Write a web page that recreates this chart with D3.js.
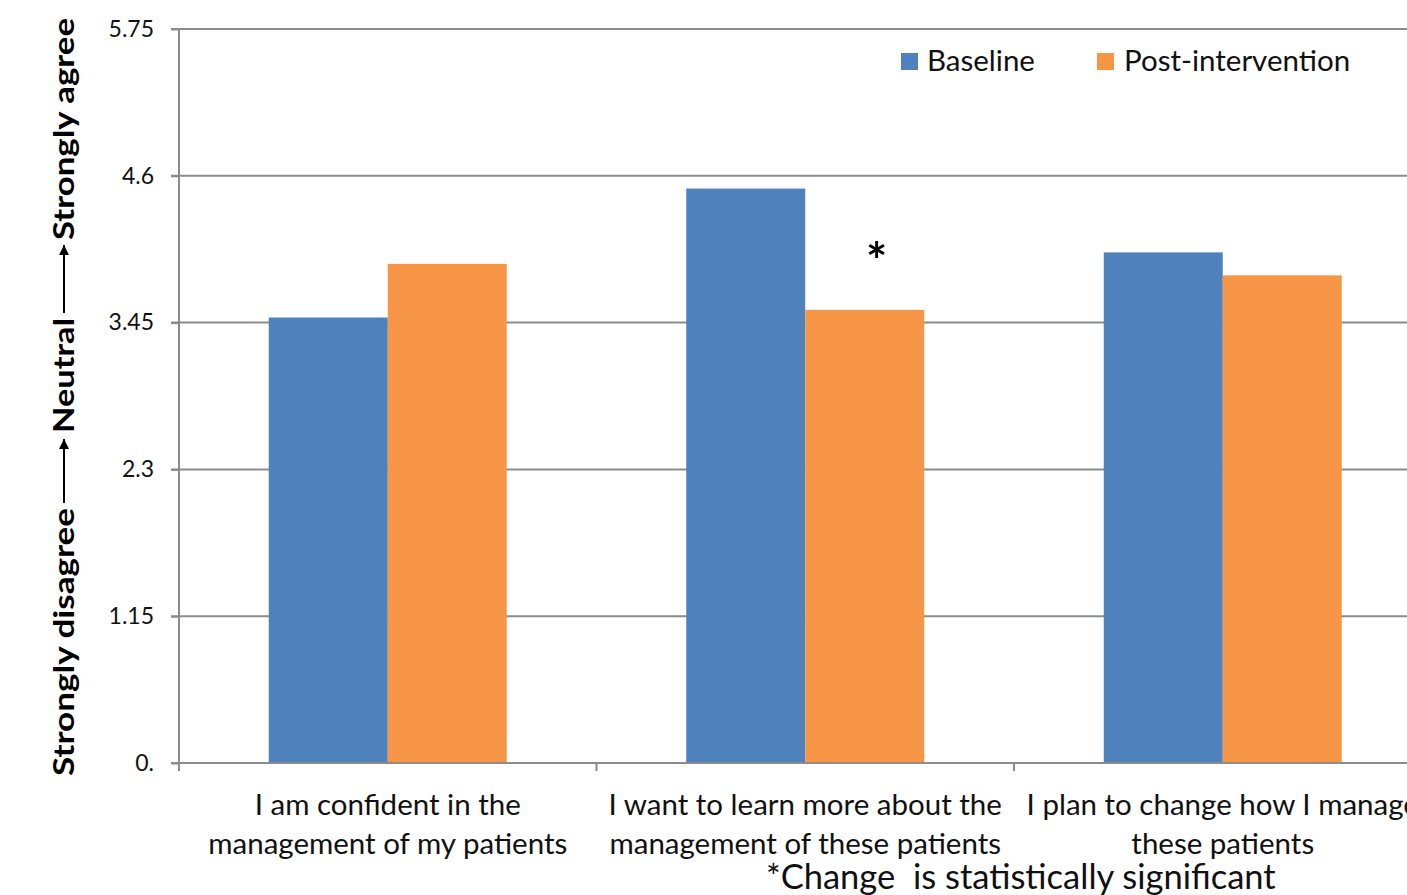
<!DOCTYPE html>
<html><head><meta charset="utf-8">
<script src="https://cdn.jsdelivr.net/npm/d3@7"></script>
<style>
html,body{margin:0;padding:0;background:#fff;overflow:hidden}
svg{display:block;font-family:Lato,"Open Sans",sans-serif}
</style></head>
<body>
<svg id="c" width="1407" height="895"></svg>
<script>
const categories = [
  ["I am confident in the", "management of my patients"],
  ["I want to learn more about the", "management of these patients"],
  ["I plan to change how I manage", "these patients"]
];
const seriesNames = ["Baseline", "Post-intervention"];
const baseline = [3.49, 4.50, 4.00];
const postIntervention = [3.91, 3.55, 3.82];
const significant = [false, true, false];
const yTicks = [0, 1.15, 2.3, 3.45, 4.6, 5.75];
const yTickLabels = ["0.", "1.15", "2.3", "3.45", "4.6", "5.75"];
const colors = ["#4F81BD", "#F79646"];

(function () {
const svg = d3.select("#c");
const mLeft = 179, mBottom = 763, mTop = 29, step = 417.5;
const catIdx = categories.map((d, i) => i);
const x0 = d3.scaleBand().domain(catIdx).range([mLeft, mLeft + step * 3]).padding(0);
const x1 = d3.scaleBand().domain([0, 1]).range([89.75, 327.75]).padding(0);
const y = d3.scaleLinear().domain([0, 5.75]).range([mBottom, mTop]);

// gridlines
svg.append("g").selectAll("line").data(yTicks.filter(t => t > 0)).join("line")
  .attr("x1", mLeft - 8).attr("x2", 1407).attr("y1", d => y(d)).attr("y2", d => y(d))
  .attr("stroke", "#8c8c8c").attr("stroke-width", 2);

// bars
const series = [baseline, postIntervention];
const g = svg.append("g");
series.forEach((vals, s) => {
  g.selectAll(".b" + s).data(vals).join("rect").attr("class", "b" + s)
    .attr("x", (d, i) => x0(i) + x1(s))
    .attr("width", x1.bandwidth())
    .attr("y", d => y(d))
    .attr("height", d => y(0) - y(d))
    .attr("fill", colors[s]);
});

// axes
const yAxis = d3.axisLeft(y).tickValues(yTicks).tickFormat((d, i) => yTickLabels[i]).tickSize(8).tickPadding(17);
const ya = svg.append("g").attr("transform", `translate(${mLeft},0)`).call(yAxis);
ya.select(".domain").attr("stroke", "#8c8c8c").attr("stroke-width", 2).attr("d", `M0,${mTop}V${mBottom + 8}`);
ya.selectAll(".tick line").attr("stroke", "#8c8c8c").attr("stroke-width", 2);
ya.selectAll(".tick text").attr("font-size", 23).attr("fill", "#111").attr("font-family", "Lato,'Open Sans',sans-serif");

const xa = svg.append("g").attr("transform", `translate(0,${mBottom})`)
  .call(d3.axisBottom(x0).tickValues([0, 1, 2]).tickSize(0).tickFormat(""));
xa.select(".domain").attr("stroke", "#8c8c8c").attr("stroke-width", 2).attr("d", `M${mLeft - 8},0H1407`);
xa.selectAll(".tick").remove();
svg.append("g").selectAll("line").data(catIdx).join("line")
  .attr("x1", d => x0(d)).attr("x2", d => x0(d))
  .attr("y1", mBottom).attr("y2", mBottom + 8)
  .attr("stroke", "#8c8c8c").attr("stroke-width", 2);

// category labels
const cl = svg.append("g").attr("font-size", 29.5).attr("fill", "#111").attr("text-anchor", "middle");
categories.forEach((lines, i) => {
  lines.forEach((t, j) => {
    cl.append("text").attr("x", x0(i) + x0.bandwidth() / 2).attr("y", 815 + j * 39).text(t);
  });
});

// significance asterisk
svg.append("g").selectAll("text").data(catIdx.filter(i => significant[i])).join("text")
  .attr("x", i => x0(i) + x1(1) + x1.bandwidth() * 0.6)
  .attr("y", i => y(Math.max(baseline[i], postIntervention[i])) + 90)
  .attr("text-anchor", "middle").attr("font-size", 50).attr("font-weight", "bold").text("*");

// legend
const lg = svg.append("g").attr("font-size", 29.5).attr("fill", "#111");
[[901, 927], [1097, 1124]].forEach((p, i) => {
  lg.append("rect").attr("x", p[0]).attr("y", 53).attr("width", 17).attr("height", 17).attr("fill", colors[i]);
  lg.append("text").attr("x", p[1]).attr("y", 71).text(seriesNames[i]);
});

// footnote
svg.append("text").attr("x", 766).attr("y", 889).attr("font-size", 34.5).attr("fill", "#111")
  .style("white-space", "pre").text("*Change  is statistically significant");

// y-axis title with arrows
svg.append("defs").append("marker").attr("id", "ah").attr("viewBox", "0 0 10 10")
  .attr("refX", 10).attr("refY", 5).attr("markerWidth", 5).attr("markerHeight", 5)
  .attr("orient", "auto").append("path").attr("d", "M0,0L10,5L0,10Z").attr("fill", "#000");
const at = svg.append("g").attr("transform", "translate(74,776) rotate(-90)");
const parts = [["Strongly disagree", 0, 268], ["Neutral", 343, 458], ["Strongly agree", 536, 758]];
parts.forEach(p => {
  at.append("text").attr("x", p[1]).attr("y", 0).attr("textLength", p[2] - p[1]).attr("lengthAdjust", "spacingAndGlyphs")
    .attr("font-size", 28).attr("font-weight", "bold").attr("fill", "#000").text(p[0]);
});
[[273, 337], [463, 531]].forEach(a => {
  at.append("line").attr("x1", a[0]).attr("x2", a[1]).attr("y1", -10).attr("y2", -10)
    .attr("stroke", "#000").attr("stroke-width", 2).attr("marker-end", "url(#ah)");
});
})();
</script>
</body></html>
